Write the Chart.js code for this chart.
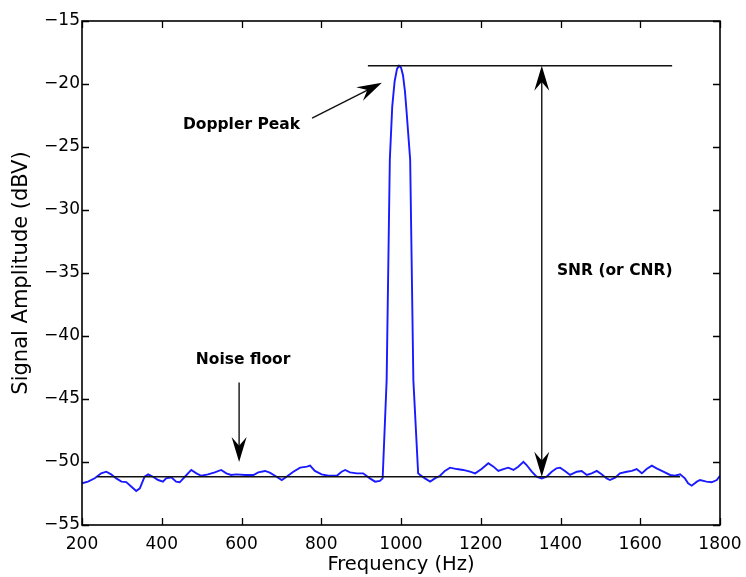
<!DOCTYPE html>
<html><head><meta charset="utf-8">
<script src="https://cdn.jsdelivr.net/npm/chart.js@4"></script>
<style>html,body{margin:0;padding:0;background:#fff}</style>
</head><body>
<canvas id="c" width="746" height="577"></canvas>
<script>
// ---- data ----
const frequencies = [200,215,232,248,261,273,286,299,311,324,336,345,357,366,378,391,403,411,424,436,445,458,474,487,499,516,533,549,562,574,587,609,630,642,659,671,684,701,713,730,747,764,772,784,801,818,839,851,860,872,889,905,922,935,947,954,964,972,978,984,990,995,1000,1005,1010,1014,1023,1031,1043,1048,1060,1073,1085,1098,1110,1123,1140,1156,1173,1186,1202,1219,1232,1244,1257,1269,1282,1294,1307,1315,1328,1340,1353,1365,1378,1390,1399,1411,1424,1441,1453,1466,1478,1491,1503,1516,1524,1537,1549,1566,1579,1591,1604,1616,1629,1641,1658,1675,1687,1700,1712,1720,1729,1742,1750,1766,1779,1792,1800];
const amplitudes = [-51.69,-51.56,-51.29,-50.90,-50.77,-50.98,-51.30,-51.56,-51.60,-51.96,-52.30,-52.09,-51.17,-50.98,-51.17,-51.43,-51.56,-51.30,-51.21,-51.56,-51.61,-51.17,-50.63,-50.90,-51.09,-50.98,-50.82,-50.63,-50.90,-51.03,-50.98,-51.03,-51.03,-50.82,-50.71,-50.85,-51.09,-51.43,-51.17,-50.77,-50.45,-50.37,-50.29,-50.71,-50.98,-51.09,-51.09,-50.77,-50.63,-50.82,-50.90,-50.90,-51.30,-51.56,-51.50,-51.30,-43.5,-26.0,-21.8,-19.8,-18.8,-18.55,-18.7,-19.3,-20.6,-22.2,-26.0,-43.5,-50.9,-51.03,-51.30,-51.56,-51.30,-51.09,-50.71,-50.45,-50.56,-50.63,-50.77,-50.90,-50.56,-50.10,-50.37,-50.71,-50.56,-50.45,-50.63,-50.37,-49.98,-50.24,-50.77,-51.17,-51.30,-51.17,-50.77,-50.50,-50.45,-50.71,-51.03,-50.77,-50.71,-51.03,-50.90,-50.71,-50.98,-51.30,-51.43,-51.24,-50.90,-50.77,-50.71,-50.56,-50.90,-50.56,-50.29,-50.50,-50.77,-51.03,-51.09,-50.98,-51.30,-51.69,-51.88,-51.56,-51.43,-51.56,-51.61,-51.43,-51.09];
const xTicks = [200,400,600,800,1000,1200,1400,1600,1800];
const yTicks = [-55,-50,-45,-40,-35,-30,-25,-20,-15];

// annotation levels (data units)
const peakLevel = -18.55;
const floorLevel = -51.17;
const peakLine = [917, 1680];
const floorLine = [238, 1700];
const snrFreq = 1353;
const dopplerArrow = {from:[777,-22.7], to:[952,-19.9]};
const noiseArrow = {from:[594,-43.7], to:[594,-50.0]};
const labels = [
  {text:'Doppler Peak', x:453, y:-23.25, align:'left'},
  {text:'Noise floor', x:604, y:-41.9, align:'center'},
  {text:'SNR (or CNR)', x:1391, y:-34.8, align:'left'}
];

const fmt = v => String(v).replace('-', '\u2212');

function arrowHead(ctx, x0, y0, x1, y1, L, W) {
  const a = Math.atan2(y1 - y0, x1 - x0);
  const ux = Math.cos(a), uy = Math.sin(a);
  const px = -uy, py = ux;
  const bx = x1 - ux * L, by = y1 - uy * L;
  const nx = x1 - ux * L * 0.65, ny = y1 - uy * L * 0.65;
  ctx.beginPath();
  ctx.moveTo(x1, y1);
  ctx.lineTo(bx + px * W / 2, by + py * W / 2);
  ctx.lineTo(nx, ny);
  ctx.lineTo(bx - px * W / 2, by - py * W / 2);
  ctx.closePath();
  ctx.fill();
}

const framePlugin = {
  id: 'frame',
  afterDraw(chart) {
    const {ctx, chartArea: ca, scales: {x, y}} = chart;
    ctx.save();
    ctx.strokeStyle = '#000';
    ctx.lineWidth = 1.6;
    ctx.strokeRect(ca.left, ca.top, ca.right - ca.left, ca.bottom - ca.top);
    ctx.lineWidth = 1.3;
    ctx.beginPath();
    xTicks.forEach(v => {
      const px = Math.round(x.getPixelForValue(v)) + 0.5;
      ctx.moveTo(px, ca.bottom); ctx.lineTo(px, ca.bottom - 7);
      ctx.moveTo(px, ca.top); ctx.lineTo(px, ca.top + 7);
    });
    yTicks.forEach(v => {
      const py = Math.round(y.getPixelForValue(v)) + 0.5;
      ctx.moveTo(ca.left, py); ctx.lineTo(ca.left + 7, py);
      ctx.moveTo(ca.right, py); ctx.lineTo(ca.right - 7, py);
    });
    ctx.stroke();
    ctx.restore();
  }
};

const annotPlugin = {
  id: 'annot',
  afterDatasetsDraw(chart) {
    const {ctx, scales: {x, y}} = chart;
    const X = v => x.getPixelForValue(v), Y = v => y.getPixelForValue(v);
    ctx.save();
    ctx.strokeStyle = '#111';
    ctx.fillStyle = '#000';
    ctx.lineWidth = 1.6;
    ctx.beginPath();
    ctx.moveTo(X(peakLine[0]), Y(peakLevel)); ctx.lineTo(X(peakLine[1]), Y(peakLevel));
    ctx.moveTo(X(floorLine[0]), Y(floorLevel)); ctx.lineTo(X(floorLine[1]), Y(floorLevel));
    ctx.stroke();
    const sx = X(snrFreq), sTop = Y(peakLevel), sBot = Y(floorLevel);
    ctx.lineWidth = 1.4;
    ctx.beginPath(); ctx.moveTo(sx, sTop + 10); ctx.lineTo(sx, sBot - 10); ctx.stroke();
    arrowHead(ctx, sx, sBot, sx, sTop, 25, 15);
    arrowHead(ctx, sx, sTop, sx, sBot, 25, 15);
    [dopplerArrow, noiseArrow].forEach(a => {
      const x0 = X(a.from[0]), y0 = Y(a.from[1]), x1 = X(a.to[0]), y1 = Y(a.to[1]);
      const d = Math.hypot(x1 - x0, y1 - y0);
      const ex = x1 - (x1 - x0) / d * 10, ey = y1 - (y1 - y0) / d * 10;
      ctx.beginPath(); ctx.moveTo(x0, y0); ctx.lineTo(ex, ey); ctx.stroke();
      arrowHead(ctx, x0, y0, x1, y1, 25, 15);
    });
    ctx.font = 'bold 15.5px "DejaVu Sans"';
    ctx.textBaseline = 'middle';
    labels.forEach(l => {
      ctx.textAlign = l.align;
      ctx.fillText(l.text, X(l.x), Y(l.y));
    });
    ctx.restore();
  }
};

new Chart(document.getElementById('c'), {
  type: 'line',
  data: {
    datasets: [{
      data: frequencies.map((f, i) => ({x: f, y: amplitudes[i]})),
      borderColor: '#1a1aff',
      borderWidth: 1.9,
      pointRadius: 0,
      tension: 0,
      fill: false
    }]
  },
  options: {
    responsive: false,
    animation: false,
    devicePixelRatio: 1,
    layout: {padding: {left: 0, right: 26, top: 21, bottom: 0}},
    plugins: {legend: {display: false}, tooltip: {enabled: false}},
    scales: {
      x: {
        type: 'linear', min: 200, max: 1800,
        afterBuildTicks: s => { s.ticks = xTicks.map(v => ({value: v})); },
        afterFit: s => { s.height = 52; s.paddingLeft = 0; s.paddingRight = 0; },
        grid: {display: false, drawTicks: false},
        border: {display: false},
        ticks: {font: {family: 'DejaVu Sans', size: 17}, color: '#000', padding: 9, maxRotation: 0, autoSkip: false, callback: v => fmt(v)},
        title: {display: true, text: 'Frequency (Hz)', font: {family: 'DejaVu Sans', size: 19.5}, color: '#000', padding: {top: 0, bottom: 0}}
      },
      y: {
        type: 'linear', min: -55, max: -15,
        afterBuildTicks: s => { s.ticks = yTicks.map(v => ({value: v})); },
        afterFit: s => { s.width = 82; s.paddingTop = 0; s.paddingBottom = 0; },
        grid: {display: false, drawTicks: false},
        border: {display: false},
        ticks: {font: {family: 'DejaVu Sans', size: 17}, color: '#000', padding: 2, autoSkip: false, callback: v => fmt(v)},
        title: {display: true, text: 'Signal Amplitude (dBV)', font: {family: 'DejaVu Sans', size: 21}, color: '#000', padding: {top: 9, bottom: 0}}
      }
    }
  },
  plugins: [framePlugin, annotPlugin]
});
</script>
</body></html>
